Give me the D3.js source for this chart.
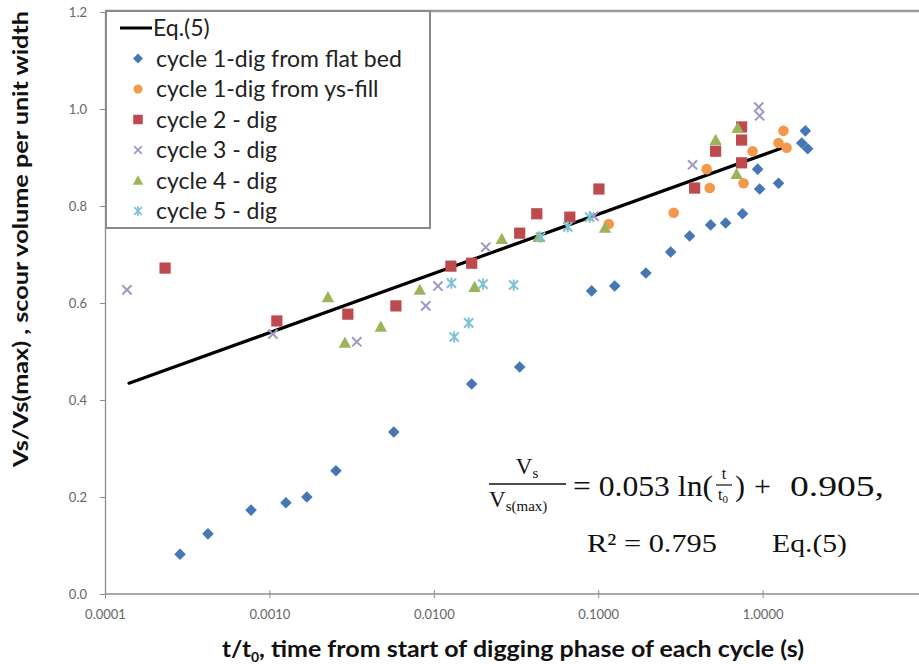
<!DOCTYPE html>
<html>
<head>
<meta charset="utf-8">
<script src="https://cdn.jsdelivr.net/npm/d3@7"></script>
<style>
  html, body { margin: 0; padding: 0; background: #fff; }
  svg { display: block; }
</style>
</head>
<body>
<svg id="chart" width="919" height="664"></svg>
<script>
// ---- data: t/t0 (s) and Vs/Vs(max) for each digging cycle ----
const flatBedT = [0.000286, 0.000423, 0.000773, 0.00126, 0.00169, 0.00254, 0.00571, 0.0170, 0.0333,
                  0.0912, 0.126, 0.195, 0.276, 0.360, 0.483, 0.596, 0.755, 0.933, 0.959, 1.25, 1.82, 1.73, 1.88];
const flatBedV = [0.082, 0.124, 0.173, 0.188, 0.200, 0.254, 0.334, 0.433, 0.468,
                  0.625, 0.635, 0.662, 0.705, 0.738, 0.761, 0.765, 0.784, 0.876, 0.835, 0.847, 0.955, 0.930, 0.918];

const ysFillT = [0.116, 0.288, 0.457, 0.477, 0.766, 0.869, 1.34, 1.25, 1.40];
const ysFillV = [0.763, 0.786, 0.876, 0.837, 0.847, 0.913, 0.955, 0.930, 0.920];

const cycle2T = [0.000232, 0.00111, 0.00300, 0.00588, 0.0127, 0.0170, 0.0333, 0.0423, 0.0672,
                 0.101, 0.386, 0.518, 0.745, 0.745, 0.745];
const cycle2V = [0.672, 0.563, 0.577, 0.594, 0.676, 0.682, 0.744, 0.784, 0.777,
                 0.835, 0.837, 0.913, 0.963, 0.936, 0.889];

const cycle3T = [0.000136, 0.00105, 0.00340, 0.00893, 0.0106, 0.0207, 0.094, 0.375, 0.947, 0.959];
const cycle3V = [0.627, 0.536, 0.520, 0.594, 0.635, 0.715, 0.779, 0.885, 1.004, 0.986];

const cycle4T = [0.00227, 0.00288, 0.00476, 0.00822, 0.0177, 0.0259, 0.0434, 0.110, 0.518, 0.705, 0.695];
const cycle4V = [0.612, 0.518, 0.551, 0.627, 0.633, 0.732, 0.736, 0.755, 0.936, 0.961, 0.866];

const cycle5T = [0.0128, 0.0199, 0.0306, 0.0133, 0.0163, 0.0446, 0.0653, 0.0887];
const cycle5V = [0.641, 0.639, 0.637, 0.530, 0.559, 0.736, 0.757, 0.777];

// Eq.(5): Vs/Vs(max) = 0.053 ln(t/t0) + 0.905, drawn over this t range
const eqSlope = 0.053;
const eqIntercept = 0.905;
const eqR2 = 0.795;
const eqRange = [0.00014, 1.35];

const xTicks = [0.0001, 0.001, 0.01, 0.1, 1];
const yTicks = [0, 0.2, 0.4, 0.6, 0.8, 1.0, 1.2];

const seriesNames = ["cycle 1-dig from flat bed", "cycle 1-dig from ys-fill", "cycle 2 - dig",
                     "cycle 3 - dig", "cycle 4 - dig", "cycle 5 - dig"];

// ---- layout ----
const svg = d3.select("#chart");
const plotLeft = 105, plotRight = 927, plotTop = 12, plotBottom = 594;
const x = d3.scaleLog().domain([1e-4, 10]).range([plotLeft, plotRight]);
const y = d3.scaleLinear().domain([0, 1.2]).range([plotBottom, plotTop]);

const sansFont = "Lato, 'Open Sans', sans-serif";
const serifFont = "'Liberation Serif', 'DejaVu Serif', serif";

// plot frame
svg.append("line").attr("x1", plotLeft).attr("x2", 919).attr("y1", plotTop - 1).attr("y2", plotTop - 1)
  .attr("stroke", "#9a9a9a").attr("stroke-width", 2.5);

// axes
const xAxis = d3.axisBottom(x).tickValues(xTicks).tickFormat(d3.format(".4f")).tickSizeInner(4).tickSizeOuter(0);
const gx = svg.append("g").attr("transform", `translate(0,${plotBottom})`).call(xAxis);
gx.select(".domain").attr("stroke", "#8c8c8c").attr("stroke-width", 1.3).attr("d", `M${plotLeft},0H919`);
gx.selectAll(".tick line").attr("stroke", "#8c8c8c").attr("y1", -4).attr("y2", 4);
gx.selectAll(".tick text").attr("font-family", sansFont).attr("font-size", 13).attr("fill", "#666")
  .attr("y", 18).attr("dy", "0.5em");

const yAxis = d3.axisLeft(y).tickValues(yTicks).tickFormat(d3.format(".1f")).tickSizeInner(5).tickSizeOuter(0);
const gy = svg.append("g").attr("transform", `translate(${plotLeft},0)`).call(yAxis);
gy.select(".domain").attr("stroke", "#8c8c8c").attr("stroke-width", 1.3);
gy.selectAll(".tick line").attr("stroke", "#8c8c8c");
gy.selectAll(".tick text").attr("font-family", sansFont).attr("font-size", 13).attr("fill", "#666").attr("x", -18);

// axis titles
svg.append("text")
  .attr("transform", `translate(28,${(10 + 468) / 2}) rotate(-90)`)
  .attr("text-anchor", "middle")
  .attr("font-family", sansFont).attr("font-weight", "bold").attr("font-size", 20).attr("fill", "#111")
  .attr("textLength", 456).attr("lengthAdjust", "spacingAndGlyphs")
  .text("Vs/Vs(max) , scour volume per unit width");

const xTitle = svg.append("g").attr("font-family", sansFont).attr("font-weight", "bold").attr("fill", "#111");
xTitle.append("text").attr("x", 222).attr("y", 657).attr("font-size", 22)
  .attr("textLength", 29).attr("lengthAdjust", "spacingAndGlyphs").text("t/t");
xTitle.append("text").attr("x", 251).attr("y", 662).attr("font-size", 14).text("0");
xTitle.append("text").attr("x", 259).attr("y", 657).attr("font-size", 22)
  .attr("textLength", 545).attr("lengthAdjust", "spacingAndGlyphs")
  .text(", time from start of digging phase  of each cycle (s)");

// ---- marker shapes ----
function markerPath(kind) {
  const p = d3.path();
  if (kind === "diamond") {
    const r = 5.8;
    p.moveTo(0, -r); p.lineTo(r, 0); p.lineTo(0, r); p.lineTo(-r, 0); p.closePath();
  } else if (kind === "circle") {
    p.arc(0, 0, 5.3, 0, 2 * Math.PI);
  } else if (kind === "square") {
    const h = 5.6;
    p.rect(-h, -h, 2 * h, 2 * h);
  } else if (kind === "triangle") {
    const h = 6.2;
    p.moveTo(0, -h); p.lineTo(h, h * 0.8); p.lineTo(-h, h * 0.8); p.closePath();
  } else if (kind === "x") {
    const h = 4.6;
    p.moveTo(-h, -h); p.lineTo(h, h); p.moveTo(-h, h); p.lineTo(h, -h);
  } else if (kind === "asterisk") {
    const h = 4.6;
    p.moveTo(-h, -h); p.lineTo(h, h); p.moveTo(-h, h); p.lineTo(h, -h);
    p.moveTo(0, -h - 1); p.lineTo(0, h + 1);
  }
  return p.toString();
}

const series = [
  { name: seriesNames[0], t: flatBedT, v: flatBedV, kind: "diamond", color: "#4577b5", stroked: false },
  { name: seriesNames[1], t: ysFillT, v: ysFillV, kind: "circle", color: "#f4994c", stroked: false },
  { name: seriesNames[2], t: cycle2T, v: cycle2V, kind: "square", color: "#bd4a4e", stroked: false },
  { name: seriesNames[3], t: cycle3T, v: cycle3V, kind: "x", color: "#9d99c4", stroked: true },
  { name: seriesNames[4], t: cycle4T, v: cycle4V, kind: "triangle", color: "#9bb45a", stroked: false },
  { name: seriesNames[5], t: cycle5T, v: cycle5V, kind: "asterisk", color: "#7fc2d4", stroked: true }
];

function styleMarker(sel, s) {
  if (s.stroked) {
    sel.attr("fill", "none").attr("stroke", s.color).attr("stroke-width", 2);
  } else {
    sel.attr("fill", s.color).attr("stroke", "none");
  }
}

// fitted curve
const eqLine = d3.line().x(d => x(d)).y(d => y(eqSlope * Math.log(d) + eqIntercept));
svg.append("path").datum(eqRange).attr("d", eqLine)
  .attr("fill", "none").attr("stroke", "#000").attr("stroke-width", 3.2).attr("stroke-linecap", "round");

// data points
series.forEach(s => {
  const pts = s.t.map((t, i) => [t, s.v[i]]);
  svg.append("g").selectAll("path").data(pts).join("path")
    .attr("d", markerPath(s.kind))
    .attr("transform", d => `translate(${x(d[0])},${y(d[1])})`)
    .call(sel => styleMarker(sel, s));
});

// ---- legend ----
const lg = svg.append("g");
lg.append("rect").attr("x", 106).attr("y", 11).attr("width", 324).attr("height", 217)
  .attr("fill", "#fff").attr("stroke", "#8a8a8a").attr("stroke-width", 2);
const rowY = i => 28 + i * 30.5;
lg.append("line").attr("x1", 120).attr("x2", 152).attr("y1", rowY(0)).attr("y2", rowY(0))
  .attr("stroke", "#000").attr("stroke-width", 3);
lg.append("text").attr("x", 153).attr("y", rowY(0)).attr("dy", "0.35em")
  .attr("font-family", sansFont).attr("font-size", 23).attr("fill", "#222").text("Eq.(5)");
series.forEach((s, i) => {
  const yy = rowY(i + 1);
  lg.append("path").attr("d", markerPath(s.kind)).attr("transform", `translate(138,${yy}) scale(0.85)`)
    .call(sel => styleMarker(sel, s));
  lg.append("text").attr("x", 156).attr("y", yy).attr("dy", "0.35em")
    .attr("font-family", sansFont).attr("font-size", 23).attr("fill", "#222").text(s.name);
});

// ---- equation annotation ----
const eq = svg.append("g").attr("font-family", serifFont).attr("fill", "#111");
// left fraction Vs / Vs(max)
const numT = eq.append("text").attr("x", 527).attr("y", 474).attr("text-anchor", "middle").attr("font-size", 23);
numT.append("tspan").text("V");
numT.append("tspan").attr("font-size", 15).attr("dy", 4).text("s");
eq.append("line").attr("x1", 489).attr("x2", 566).attr("y1", 484).attr("y2", 484).attr("stroke", "#111").attr("stroke-width", 1.6);
const denT = eq.append("text").attr("x", 489).attr("y", 507).attr("font-size", 23);
denT.append("tspan").text("V");
denT.append("tspan").attr("font-size", 15).attr("dy", 4).text("s(max)");
// right-hand side
eq.append("text").attr("x", 573).attr("y", 496).attr("font-size", 30)
  .attr("textLength", 140).attr("lengthAdjust", "spacingAndGlyphs")
  .text("= " + eqSlope.toFixed(3) + " ln(");
eq.append("text").attr("x", 724).attr("y", 479).attr("text-anchor", "middle").attr("font-size", 16).text("t");
eq.append("line").attr("x1", 716).attr("x2", 732).attr("y1", 485).attr("y2", 485).attr("stroke", "#111").attr("stroke-width", 1.2);
const t0 = eq.append("text").attr("x", 718).attr("y", 500).attr("font-size", 16);
t0.append("tspan").text("t");
t0.append("tspan").attr("font-size", 11).attr("dy", 3).text("0");
eq.append("text").attr("x", 735).attr("y", 496).attr("font-size", 30).text(")");
eq.append("text").attr("x", 754).attr("y", 496).attr("font-size", 30).text("+");
eq.append("text").attr("x", 790).attr("y", 496).attr("font-size", 30)
  .attr("textLength", 94).attr("lengthAdjust", "spacingAndGlyphs")
  .text(eqIntercept.toFixed(3) + ",");
// second line
eq.append("text").attr("x", 587).attr("y", 552).attr("font-size", 26)
  .attr("textLength", 130).attr("lengthAdjust", "spacingAndGlyphs")
  .text("R\u00b2 = " + eqR2.toFixed(3));
eq.append("text").attr("x", 772).attr("y", 552).attr("font-size", 26)
  .attr("textLength", 75).attr("lengthAdjust", "spacingAndGlyphs").text("Eq.(5)");
</script>
</body>
</html>
